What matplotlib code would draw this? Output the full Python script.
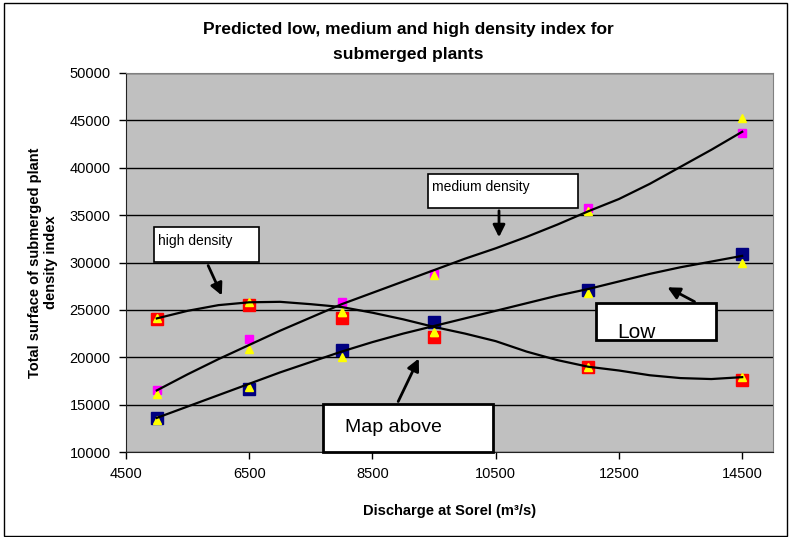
import numpy as np
import matplotlib
matplotlib.use('Agg')
from matplotlib import pyplot as plt
from matplotlib.patches import Rectangle, FancyArrowPatch

plt.rc('font', family=['Liberation Sans', 'DejaVu Sans'])

# Data
discharge = [5000, 6500, 8000, 9500, 12000, 14500]
high = [24000, 25500, 24100, 22100, 19000, 17600]
medium = [16500, 21900, 25800, 28800, 35700, 43700]
low = [13600, 16700, 20800, 23700, 27100, 30900]
pred_high = [24100, 25800, 24800, 22700, 19000, 17900]
pred_medium = [16100, 20900, 24800, 28700, 35400, 45300]
pred_low = [13400, 16900, 20000, 22700, 26800, 30000]

# hand drawn curves
curve_x = [5000, 5500, 6000, 6500, 7000, 7500, 8000, 8500, 9000, 9500,
           10000, 10500, 11000, 11500, 12000, 12500, 13000, 13500, 14000, 14500]
curve_high = [24100, 24900, 25500, 25800, 25850, 25600, 25300, 24700, 24000, 23200,
              22500, 21700, 20600, 19700, 19000, 18600, 18100, 17800, 17700, 17900]
curve_medium = [16500, 18200, 19800, 21300, 22800, 24200, 25600, 26800, 28000, 29200,
                30400, 31500, 32700, 34000, 35400, 36700, 38300, 40100, 41900, 43800]
curve_low = [13600, 14800, 16000, 17200, 18400, 19500, 20600, 21600, 22500, 23300,
             24100, 24900, 25700, 26500, 27200, 28000, 28800, 29500, 30100, 30700]

W, H = 795, 537
fig = plt.figure(figsize=(W / 100, H / 100), dpi=100)
ax = fig.add_axes([126 / W, 1 - 452 / H, (773 - 126) / W, (452 - 73) / H])
ax.set_facecolor('#C0C0C0')


def px(x, y):
    return (x / W, 1 - y / H)


ax.plot(discharge, high, 's', color='#FF0000', ms=8, zorder=3)
ax.plot(discharge, medium, 's', color='#FF00FF', ms=6, zorder=3)
ax.plot(discharge, low, 's', color='#000080', ms=8, zorder=3)
for s in (pred_high, pred_medium, pred_low):
    ax.plot(discharge, s, '^', color='#FFFF00', ms=6, mec='#FFFF00', zorder=4)
for c in (curve_high, curve_medium, curve_low):
    ax.plot(curve_x, c, color='black', lw=1.6, zorder=5)

ax.set_xlim(4500, 15000)
ax.set_ylim(10000, 50000)
ax.set_xticks(np.arange(4500, 15000, 2000))
ax.set_yticks(np.arange(10000, 50001, 5000))
ax.tick_params(labelsize=10.5, direction='out', length=5, width=1, pad=6)
ax.yaxis.grid(True, color='black', lw=1)
ax.set_axisbelow(True)
for side in ('top', 'right'):
    ax.spines[side].set_color('#808080')
for side in ('left', 'bottom'):
    ax.spines[side].set_color('#222222')

ax.set_xlabel('Discharge at Sorel (m³/s)', fontsize=10.5, fontweight='bold', labelpad=16)
ax.set_ylabel('Total surface of submerged plant\ndensity index', fontsize=10.5,
              fontweight='bold', labelpad=8)
fig.text(408 / W, 1 - 42 / H,
         'Predicted low, medium and high density index for\nsubmerged plants',
         ha='center', va='center', fontsize=12.5, fontweight='bold', linespacing=1.9)

# outer frame
fig.patches.append(Rectangle(px(4, 536), (787 - 4) / W, (536 - 3) / H, fill=False,
                             ec='black', lw=1, transform=fig.transFigure))


def box(x0, y0, x1, y1, label, size, lw, tx, ty, clip=False):
    r = Rectangle(px(x0, y1), (x1 - x0) / W, (y1 - y0) / H, fc='white', ec='black',
                  lw=lw, transform=fig.transFigure, zorder=10)
    fig.patches.append(r)
    t = fig.text(tx / W, 1 - ty / H, label, fontsize=size, va='center', ha='left', zorder=11)
    if clip:
        t.set_clip_path(r)


def arrow(x0, y0, x1, y1):
    a = FancyArrowPatch(px(x0, y0), px(x1, y1), arrowstyle='-|>', mutation_scale=18,
                        lw=2, color='black', transform=fig.transFigure, zorder=12)
    fig.patches.append(a)


box(154, 227, 259, 262, 'high density', 10, 1.2, 158, 241)
arrow(207, 263, 223, 298)
box(428, 174, 578, 208, 'medium density', 10, 1.2, 432, 187)
arrow(499, 208, 499, 240)
box(596, 303, 716, 340, 'Low', 15, 2, 617, 333, clip=True)
arrow(697, 303, 665, 286)
box(323, 404, 493, 452, 'Map above', 14, 2, 345, 427)
arrow(397, 404, 420, 356)

fig.savefig('out.png', dpi=100)
